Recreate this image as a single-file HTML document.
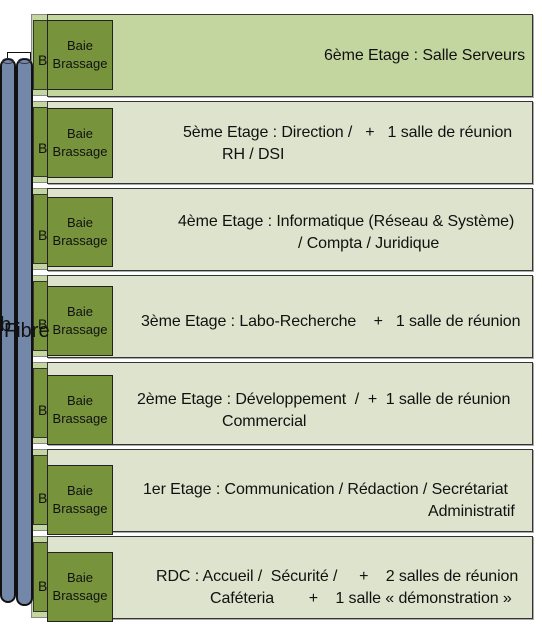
<!DOCTYPE html>
<html><head><meta charset="utf-8"><style>
body{margin:0;width:542px;height:643px;background:#fff;position:relative;overflow:hidden;font-family:"Liberation Sans",sans-serif;}
div,span{position:absolute;box-sizing:border-box;}
.back{left:31px;width:70px;height:82px;background:#c4d6a0;border:1px solid #888;}
.backg{left:33px;width:66px;height:70px;background:#77933c;border:1px solid #333;}
.panel{left:47px;width:486px;height:83px;background:#dde3cd;border:1px solid #333;box-shadow:1px 1px 0 #aaa;}
.bay{left:47px;width:66px;height:70px;background:#77933c;border:1px solid #222;font-size:13px;color:#111;text-align:center;line-height:18px;padding-top:16px;}
.t{font-size:16px;color:#111;white-space:pre;letter-spacing:-0.1px;}
.cyl{background:#7388a8;border:2px solid #111;border-radius:8px;}
.sb{font-size:14px;color:#111;}
</style></head><body>

<div class="back" style="top:14px"></div><div class="backg" style="top:20px"></div>
<div class="back" style="top:101px"></div><div class="backg" style="top:107px"></div>
<div class="back" style="top:188px"></div><div class="backg" style="top:194px"></div>
<div class="back" style="top:275px"></div><div class="backg" style="top:281px"></div>
<div class="back" style="top:362px"></div><div class="backg" style="top:368px"></div>
<div class="back" style="top:449px"></div><div class="backg" style="top:455px"></div>
<div class="back" style="top:536px"></div><div class="backg" style="top:542px"></div>

<div class="sb" style="left:38px;top:52px">B</div>
<div class="sb" style="left:38px;top:140px">B</div>
<div class="sb" style="left:38px;top:227px">B</div>
<div class="sb" style="left:38px;top:316px">B</div>
<div class="sb" style="left:38px;top:402px">B</div>
<div class="sb" style="left:38px;top:490px">B</div>
<div class="sb" style="left:38px;top:578px">B</div>

<div class="panel" style="top:14px;background:#c4d6a0"></div>
<div class="panel" style="top:101px"></div>
<div class="panel" style="top:188px"></div>
<div class="panel" style="top:275px"></div>
<div class="panel" style="top:362px"></div>
<div class="panel" style="top:449px"></div>
<div class="panel" style="top:536px"></div>

<div class="bay" style="top:20px">Baie<br>Brassage</div>
<div class="bay" style="top:108px">Baie<br>Brassage</div>
<div class="bay" style="top:197px">Baie<br>Brassage</div>
<div class="bay" style="top:286px">Baie<br>Brassage</div>
<div class="bay" style="top:375px">Baie<br>Brassage</div>
<div class="bay" style="top:465px">Baie<br>Brassage</div>
<div class="bay" style="top:552px">Baie<br>Brassage</div>

<span class="t" style="left:324px;top:47px">6ème Etage : Salle Serveurs</span>
<span class="t" style="left:183px;top:124px">5ème Etage : Direction /   +   1 salle de réunion</span>
<span class="t" style="left:222px;top:146px">RH / DSI</span>
<span class="t" style="left:178px;top:213px">4ème Etage : Informatique (Réseau &amp; Système)</span>
<span class="t" style="left:298px;top:235px">/ Compta / Juridique</span>
<span class="t" style="left:141px;top:313px">3ème Etage : Labo-Recherche    +   1 salle de réunion</span>
<span class="t" style="left:137px;top:391px">2ème Etage : Développement  /  +  1 salle de réunion</span>
<span class="t" style="left:222px;top:413px">Commercial</span>
<span class="t" style="left:143px;top:481px">1er Etage : Communication / Rédaction / Secrétariat</span>
<span class="t" style="left:428px;top:503px">Administratif</span>
<span class="t" style="left:156px;top:568px">RDC : Accueil /  Sécurité /     +    2 salles de réunion</span>
<span class="t" style="left:210px;top:590px">Caféteria        +    1 salle « démonstration »</span>

<div style="left:7px;top:52px;width:24px;height:8px;border:1px solid #111;border-bottom:none"></div>
<div class="cyl" style="left:0;top:58px;width:16px;height:545px"></div>
<div class="cyl" style="left:16px;top:58px;width:17px;height:548px"></div>
<div style="left:2px;top:58px;width:12px;height:6px;border:1px solid #334;border-radius:50%"></div>
<div style="left:18px;top:58px;width:13px;height:6px;border:1px solid #334;border-radius:50%"></div>
<div style="left:0;top:314px;font-size:20px;color:#111">b</div>
<div style="left:4px;top:320px;font-size:20px;color:#111">Fibre</div>
</body></html>
